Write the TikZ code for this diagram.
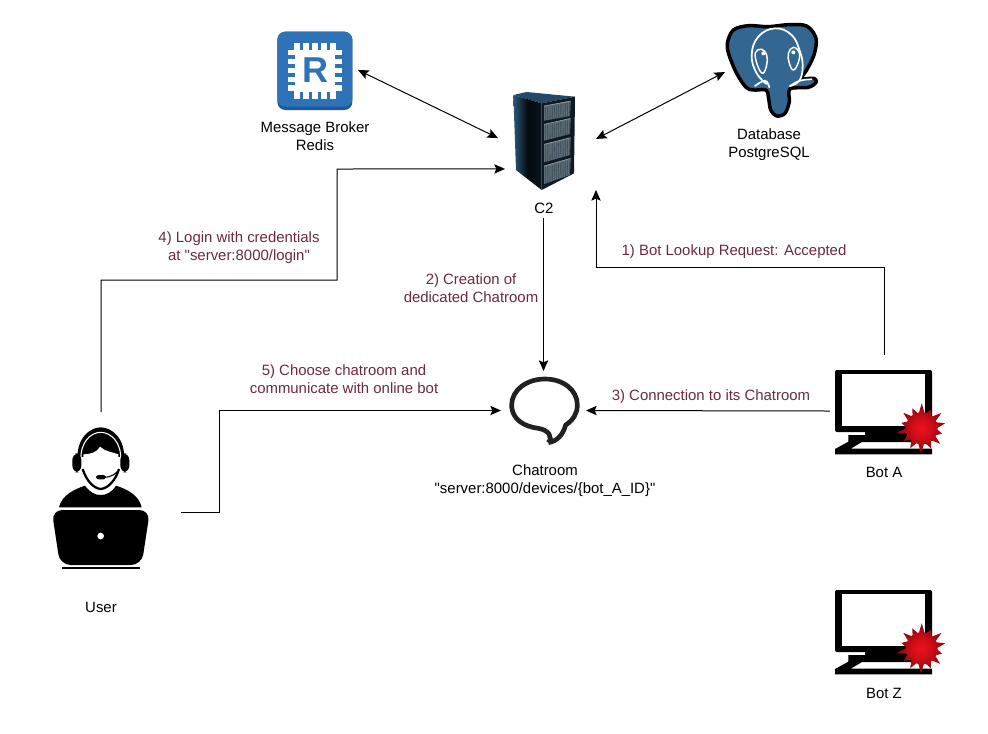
\documentclass[tikz,border=0pt]{standalone}
\usepackage{fontspec}
\setmainfont{Liberation Sans}
\newfontfamily\labfont{Liberation Sans}
\usetikzlibrary{arrows.meta}
\definecolor{labred}{HTML}{6B2A3C}
\definecolor{redisblue}{HTML}{2E73B8}
\definecolor{redisdark}{HTML}{1F5A96}
\definecolor{pgblue}{HTML}{336791}
\definecolor{drawergray}{HTML}{5F6E76}
\pgfdeclareradialshading{virusball}{\pgfpointorigin}{
  rgb(0bp)=(0.92,0.07,0.12);
  rgb(10bp)=(0.82,0.05,0.09);
  rgb(20bp)=(0.62,0.03,0.06);
  rgb(30bp)=(0.45,0.02,0.04);
  rgb(50bp)=(0.30,0.01,0.02)}
\tikzset{
  ghost/.style={inner sep=0pt,outer sep=0pt,draw=none,fill=none,rectangle},
  lab/.style={font=\labfont\fontsize{11.2pt}{13.5pt}\selectfont,align=center,text=black,inner sep=0pt},
  steplab/.style={lab,text=labred},
  conn/.style={draw=black,line width=0.75pt,-{Stealth[length=8pt,width=7pt,inset=1.5pt]}},
  biconn/.style={draw=black,line width=0.75pt,{Stealth[length=8pt,width=7pt,inset=1.5pt]}-{Stealth[length=8pt,width=7pt,inset=1.5pt]}},
  traced/.style={x=0.25pt,y=-0.25pt},
  boticon/.pic={
    \fill[black,rounded corners=1.5pt] (-49,-41) rectangle (48,21);
    \fill[white] (-42.5,-37) rectangle (41,14.5);
    \fill[black] (-19,20) -- (-19,24) -- (-35.7,24) -- (-35.7,30.7) -- (-49,38) -- (-49,43.3) -- (48,43.3) -- (48,37.5) -- (-33,37.5) -- (-22,31) -- (30,31) -- (30,20) -- cycle;
    \shade[shading=virusball]
      (37.7+16,17.3) \foreach \a/\r in {12/24,38/25,63/21,90/25,115/22,140/24,165/21,190/25,215/22,240/23,268/25,295/22,320/24,345/21}{
        -- ({37.7+16*cos(\a-10)},{17.3-16*sin(\a-10)}) -- ({37.7+\r*cos(\a)},{17.3-\r*sin(\a)}) -- ({37.7+16*cos(\a+10)},{17.3-16*sin(\a+10)})} -- cycle;
  }
}
\begin{document}
\begin{tikzpicture}[x=0.75pt,y=-0.75pt]
\useasboundingbox (0,0) rectangle (988,733);

% anchor nodes for the icons
\node[ghost,minimum width=64.5pt,minimum height=75pt] (redis) at (315,70) {};
\node[ghost,minimum width=69.75pt,minimum height=75pt] (db) at (771.5,72) {};
\node[ghost,minimum width=73.5pt,minimum height=97.5pt] (c2) at (547,153) {};
\node[ghost,minimum width=63.75pt,minimum height=59.25pt] (chat) at (543.5,410.5) {};
\node[ghost,minimum width=81pt,minimum height=84pt] (botA) at (884,411) {};
\node[ghost,minimum width=81pt,minimum height=84pt] (botZ) at (884,631) {};
\node[ghost,minimum width=120pt,minimum height=150pt] (user) at (101,512) {};

% Redis icon
\begin{scope}[shift={(260,20)},traced]
  \fill[redisdark,rounded corners=6pt] (52,35) rectangle (277,270);
  \fill[redisblue,rounded corners=6pt] (52,35) rectangle (277,260);
  \fill[white] (105,90) rectangle (225,215);
  \foreach \k in {0,1,2,3,4}{
    \fill[white] ({103+27*\k},68) rectangle ++(16,24);
    \fill[white] ({103+27*\k},213) rectangle ++(16,24);
    \fill[white] (84,{90+26.5*\k}) rectangle ++(24,16);
    \fill[white] (222,{90+26.5*\k}) rectangle ++(24,16);
  }
\end{scope}
\node[ghost,text=redisblue,font=\labfont\fontsize{27pt}{27pt}\selectfont\bfseries] (redisR) at (315.5,70.5) {R};

% PostgreSQL elephant
\begin{scope}[shift={(710,10)},traced]
  \draw[black,line width=2.6pt,fill=pgblue,line join=round] plot[smooth cycle,tension=.55] coordinates {
    (175,50) (235,44) (290,48) (318,85) (312,135) (290,180) (275,205) (312,205) (318,217) (295,232)
    (240,237) (238,275) (225,310) (200,318) (182,300) (175,260) (168,240) (130,240) (108,232) (80,190) (57,135) (52,100) (70,60) (115,47)};
  \draw[white,line width=1.3pt,line cap=round] plot[smooth,tension=.7] coordinates {(170,222) (140,190) (125,135) (145,80) (195,55) (245,75) (270,125) (278,170) (268,212) (240,228)};
  \draw[white,line width=1.3pt,line cap=round] plot[smooth,tension=.7] coordinates {(135,228) (165,212) (178,232)};
  \draw[white,line width=1.3pt,line cap=round] plot[smooth,tension=.7] coordinates {(240,228) (270,212) (305,208)};
  \draw[white,line width=1.1pt,line join=round] plot[smooth cycle,tension=.7] coordinates {(136,128) (155,118) (170,135) (170,165) (158,190) (142,165)};
  \draw[white,line width=1.1pt,line join=round] plot[smooth cycle,tension=.7] coordinates {(235,130) (250,112) (268,128) (264,160) (250,180) (238,160)};
  \fill[white] (160,130) circle (6);
  \fill[white] (250,127) circle (6);
\end{scope}

% Server
\begin{scope}[shift={(500,80)},traced]
  \fill[pgblue!70!black] (40,45) -- (80,36) -- (225,50) -- (125,70) -- cycle;
  \shade[left color=pgblue!85!black,right color=pgblue!20!black,middle color=black!90!pgblue] (40,45) -- (125,70) -- (125,330) -- (48,270) -- cycle;
  \fill[pgblue!25!black] (125,70) -- (225,50) -- (222,280) -- (125,330) -- cycle;
  \foreach \ya/\yb/\yc/\yd in {78/63/122/108,133/115/182/162,193/173/247/225,258/235/312/285}{
    \fill[drawergray] (132,\ya) -- (212,\yb) -- (210,\yd) -- (132,\yc) -- cycle;
    \foreach \t in {0.05,0.12,...,0.98}{
      \draw[black!60!pgblue,line width=.2pt] ({132+\t*80},{\ya+4+\t*(\yb-\ya)}) -- ({132+\t*79},{\yc+\t*(\yd-\yc)});
    }
    \draw[gray!60,line width=.35pt] (132,\ya) -- (212,\yb);
  }
\end{scope}

% Chat bubble
\begin{scope}[shift={(495,365)},traced]
  \draw[black!87,line width=3.5pt,line join=round]
    (160,233) .. controls (190,228) and (205,205) .. (212,180)
    .. controls (235,165) and (247,145) .. (247,120)
    .. controls (247,75) and (205,42) .. (150,42)
    .. controls (95,42) and (50,75) .. (50,120)
    .. controls (50,165) and (90,185) .. (130,190)
    .. controls (160,195) and (175,215) .. (160,233);
\end{scope}

% Bots
\pic at (884,411) {boticon};
\pic at (884,631) {boticon};

% User
\begin{scope}[shift={(40,415)},traced]
  \fill[black] (113,135) .. controls (108,70) and (150,37) .. (182,37) .. controls (215,37) and (257,70) .. (252,135) -- cycle;
  \draw[white,line width=.8pt] (123,135) .. controls (120,85) and (150,52) .. (182,52) .. controls (215,52) and (245,85) .. (242,135);
  \fill[white] (130,118) .. controls (150,118) and (172,112) .. (180,95) .. controls (195,110) and (220,112) .. (235,118)
     -- (235,160) .. controls (230,190) and (205,212) .. (182,212) .. controls (160,212) and (135,190) .. (130,160) -- cycle;
  \fill[white] (124,125) rectangle (134,150);
  \fill[white] (231,125) rectangle (241,150);
  \fill[black,rounded corners=5pt] (97,115) rectangle (124,172);
  \fill[black,rounded corners=5pt] (241,115) rectangle (268,172);
  \draw[black,line width=1.7pt] (128,162) .. controls (138,195) and (160,220) .. (182,222) .. controls (205,220) and (227,195) .. (237,162);
  \draw[black,line width=.8pt] (180,187) .. controls (195,189) and (218,186) .. (232,170);
  \fill[black,rounded corners=2pt] (168,180) rectangle (198,193);
  \fill[black] (57,277) .. controls (65,240) and (105,222) .. (135,212) .. controls (150,232) and (165,240) .. (182,240) .. controls (200,240) and (215,232) .. (228,212) .. controls (260,222) and (297,240) .. (305,277) -- cycle;
  \fill[black,rounded corners=8pt] (35,285) -- (330,285) -- (305,450) -- (60,450) -- cycle;
  \fill[white] (182,363) circle (10);
  \draw[black,line width=1.4pt] (65,459) -- (300,459);
\end{scope}

% Texts
\node[lab] (redisLab) at (315,136) {Message Broker\\Redis};
\node[lab] (dbLab) at (769,145) {Database\\PostgreSQL};
\node[lab] (c2Lab) at (544,208) {C2};
\node[lab] (chatLab) at (545,481) {Chatroom\\"server:8000/devices/\{bot\_A\_ID\}"};
\node[lab] (botALab) at (884,472) {Bot A};
\node[lab] (botZLab) at (884,693) {Bot Z};
\node[lab] (userLab) at (101,607) {User};
\node[steplab] (s4) at (239,248) {4) Login with credentials\\at "server:8000/login"};
\node[steplab] (s2) at (471,288) {2) Creation of\\dedicated Chatroom};
\node[steplab] (s1) at (734,251.5) {1) Bot Lookup Request: Accepted};
\node[steplab] (s5) at (344,379) {5) Choose chatroom and\\communicate with online bot};
\node[steplab] (s3) at (711,396.5) {3) Connection to its Chatroom};

% Connectors
\draw[biconn] (redis.east) -- (c2.163);
\draw[biconn] (db.west) -- (c2.16);
\draw[conn,shorten >=-5.25pt] (user.north) -- (101,280) -- (337,280) -- (337,169) -- (c2.198);
\draw[conn] (user.east) -- (219,512) -- (219,410.5) -- (chat.west);
\draw[conn] (c2.south -| chat.north) -- (chat.north);
\draw[conn] (botA.north) -- (884,267) -- (596,267) -- (c2.-37);
\draw[conn] (botA.west) -- (chat.east);
\end{tikzpicture}
\end{document}
